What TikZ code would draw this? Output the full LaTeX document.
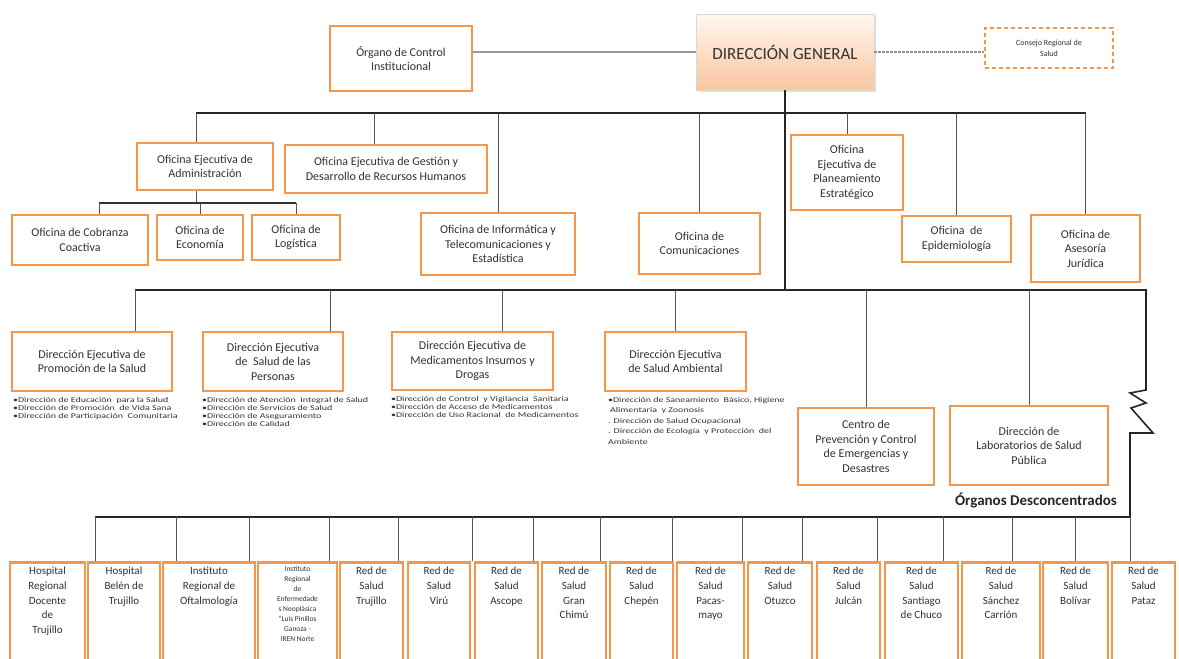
\documentclass[tikz,border=0pt]{standalone}
\usepackage{fontspec}
\setmainfont{Carlito}
\newfontfamily\widefont[FakeStretch=1.35]{Carlito}
\usepackage{tikz}
\usetikzlibrary{shadows}

\definecolor{boxorange}{RGB}{245,150,75}
\definecolor{dgtop}{RGB}{255,247,240}
\definecolor{dgbot}{RGB}{249,198,158}
\definecolor{linegray}{RGB}{85,85,85}
\definecolor{txtgray}{RGB}{50,50,50}

\tikzset{
  obox/.style={draw=boxorange, line width=2.2pt, fill=white, align=center, text=txtgray,
    font=\fontsize{12}{14.5}\selectfont, inner sep=2pt},
  lowbox/.style={draw=boxorange, line width=2.5pt, fill=white, minimum height=120, anchor=north},
  lowtext/.style={anchor=north, align=center, text=txtgray, font=\fontsize{11}{14.6}\selectfont,
    inner sep=0pt, yshift=-6pt},
  sublist/.style={anchor=north west, align=left, text=txtgray, inner sep=0pt,
    font=\widefont\fontsize{7.4}{8}\selectfont},
  bus/.style={line width=1.6pt, black!85},
  conn/.style={line width=1pt, linegray},
}

\begin{document}
\begin{tikzpicture}[x=1pt, y=-1pt]
    \useasboundingbox (0,0) rectangle (1179,659);

    % cabecera
    \node[obox, minimum width=142, minimum height=65] (org) at (401,58.5) {Órgano de Control\\Institucional};
    \node[draw=black!15, line width=0.6pt, top color=dgtop, bottom color=dgbot, minimum width=178,
        minimum height=76, text=txtgray, font=\fontsize{17}{20}\selectfont,
        drop shadow={opacity=0.25, shadow xshift=1.5pt, shadow yshift=-1.5pt}] (dg) at (785,52) {DIRECCIÓN GENERAL};
    \node[draw=boxorange, line width=1.5pt, dash pattern=on 4pt off 3pt, fill=white, minimum width=128,
        minimum height=40, align=center, text=txtgray, font=\fontsize{8}{10.5}\selectfont] (con) at (1049,48) {Consejo Regional de\\Salud};

    \draw[line width=1.8pt, black!40] (org.east |- dg.west) -- (dg.west);
    \draw[line width=1.2pt, black!45, dash pattern=on 3pt off 1pt] (dg.east) -- (con.west |- dg.east);

    % primer nivel
    \node[obox, minimum width=136, minimum height=47] (adm) at (205,166.5) {Oficina Ejecutiva de\\Administración};
    \node[obox, minimum width=202, minimum height=48] (ges) at (386,169) {Oficina Ejecutiva de Gestión y\\Desarrollo de Recursos Humanos};
    \node[obox, minimum width=154, minimum height=62] (inf) at (498,244) {Oficina de Informática y\\Telecomunicaciones y\\Estadística};
    \node[obox, minimum width=121, minimum height=61] (com) at (699.5,243.5) {Oficina de\\Comunicaciones};
    \node[obox, minimum width=112, minimum height=75] (pla) at (847,172.5) {Oficina\\Ejecutiva de\\Planeamiento\\Estratégico};
    \node[obox, minimum width=109, minimum height=46] (epi) at (956.5,239) {Oficina\ \ de\\Epidemiología};
    \node[obox, minimum width=109, minimum height=67] (jur) at (1085.5,248.5) {Oficina de\\Asesoría\\Jurídica};

    \node[obox, minimum width=136, minimum height=50] (cob) at (80,240) {Oficina de Cobranza\\Coactiva};
    \node[obox, minimum width=86, minimum height=45] (eco) at (200,237.5) {Oficina de\\Economía};
    \node[obox, minimum width=88, minimum height=45] (log) at (296,237.5) {Oficina de\\Logística};

    \coordinate (busA) at (0,113);
    \coordinate (busS) at (0,203);
    \coordinate (busB) at (0,290);
    \coordinate (admtop) at ([xshift=-9pt]adm.north);
    \coordinate (admbot) at ([xshift=-9pt]adm.south);
    \coordinate (gestop) at ([xshift=-12pt]ges.north);
    \coordinate (cobtop) at ([xshift=19pt]cob.north);

    \draw[bus] (dg.south) -- (dg.south |- busB);
    \draw[bus] (admtop |- busA) -- (jur.north |- busA);
    \foreach \p in {admtop, gestop, inf.north, com.north, pla.north, epi.north, jur.north}
        \draw[conn] (\p |- busA) -- (\p);
    \draw[conn] (admbot) -- (admbot |- busS);
    \draw[line width=1.3pt, black!80] (cobtop |- busS) -- (log.north |- busS);
    \foreach \p in {cobtop, eco.north, log.north}
        \draw[conn] (\p |- busS) -- (\p);

    % direcciones ejecutivas
    \node[obox, minimum width=160, minimum height=59] (pro) at (92,361.5) {Dirección Ejecutiva de\\Promoción de la Salud};
    \node[obox, minimum width=140, minimum height=59] (per) at (273,361.5) {Dirección Ejecutiva\\de\ \ Salud de las\\Personas};
    \node[obox, minimum width=161, minimum height=58] (med) at (472.5,361) {Dirección Ejecutiva de\\Medicamentos Insumos y\\Drogas};
    \node[obox, minimum width=141, minimum height=59] (amb) at (675.5,361.5) {Dirección Ejecutiva\\de Salud Ambiental};
    \node[obox, minimum width=136, minimum height=77] (cen) at (866,446.5) {Centro de\\Prevención y Control\\de Emergencias y\\Desastres};
    \node[obox, minimum width=158, minimum height=79] (lab) at (1029,445.5) {Dirección de\\Laboratorios de Salud\\Pública};

    \node[sublist] (prolist) at ([xshift=2pt,yshift=-5pt]pro.south west) {•Dirección de Educación\ \ para la Salud\\•Dirección de Promoción\ \ de Vida Sana\\•Dirección de Participación\ \ Comunitaria};
    \node[sublist] (perlist) at ([yshift=-5pt]per.south west) {•Dirección de Atención\ \ Integral de Salud\\•Dirección de Servicios de Salud\\•Dirección de Aseguramiento\\•Dirección de Calidad};
    \node[sublist] (medlist) at ([yshift=-5pt]med.south west) {•Dirección de Control\ \ y Vigilancia\ \ Sanitaria\\•Dirección de Acceso de Medicamentos\\•Dirección de Uso Racional\ \ de Medicamentos};
    \node[sublist, font=\widefont\fontsize{7.4}{10.5}\selectfont] (amblist) at ([xshift=4pt,yshift=-5pt]amb.south west) {•Dirección de Saneamiento\ \ Básico, Higiene\\\hspace{2pt}Alimentaria\ \ y Zoonosis\\. Dirección de Salud Ocupacional\\. Dirección de Ecología\ \ y Protección\ \ del\\Ambiente};

    \coordinate (protop) at ([xshift=43pt]pro.north);
    \coordinate (pertop) at ([xshift=57pt]per.north);
    \coordinate (medtop) at ([xshift=30pt]med.north);
    \draw[bus] (protop |- busB) -- (1146,290) -- (1146,390) -- (1130,393) -- (1146,403)
        -- (1131,408) -- (1153,433) -- (1130,433) -- (1130,517) -- (95,517);
    \foreach \p in {protop, pertop, medtop, amb.north, cen.north, lab.north}
        \draw[conn] (\p |- busB) -- (\p);

    \node[font=\bfseries\fontsize{15}{18}\selectfont, text=black!85] (desc) at (1036,500) {Órganos Desconcentrados};

    % organos desconcentrados
    \foreach \n/\xa/\xb/\txt in {
        b1/10/85/{Hospital\\Regional\\Docente\\de\\Trujillo},
        b2/88/160/{Hospital\\Belén de\\Trujillo},
        b3/163/255/{Instituto\\Regional de\\Oftalmología},
        b5/340/403/{Red de\\Salud\\Trujillo},
        b6/408/470/{Red de\\Salud\\Virú},
        b7/475/538/{Red de\\Salud\\Ascope},
        b8/542/606/{Red de\\Salud\\Gran\\Chimú},
        b9/610/673/{Red de\\Salud\\Chepén},
        b10/677/744/{Red de\\Salud\\Pacas-\\mayo},
        b11/748/812/{Red de\\Salud\\Otuzco},
        b12/817/880/{Red de\\Salud\\Julcán},
        b13/885/958/{Red de\\Salud\\Santiago\\de Chuco},
        b14/962/1040/{Red de\\Salud\\Sánchez\\Carrión},
        b15/1043/1108/{Red de\\Salud\\Bolívar},
        b16/1112/1175/{Red de\\Salud\\Pataz}}
        \node[lowbox, minimum width=\xb-\xa, label={[lowtext]north:\txt}] (\n) at ({(\xa+\xb)/2},561) {};
    \node[lowbox, minimum width=79, label={[lowtext, yshift=1pt, font=\fontsize{7.5}{10}\selectfont]north:{Instituto\\Regional\\de\\Enfermedade\\s Neoplásica\\“Luis Pinillos\\Ganoza -\\IREN Norte}}] (b4) at (297.5,561) {};

    \foreach \x in {95,176,249,329,398,472,533,600,672,742,802,877,943,1012,1075,1130}
        \draw[conn] (\x,517) -- (\x,561);
\end{tikzpicture}
\end{document}
